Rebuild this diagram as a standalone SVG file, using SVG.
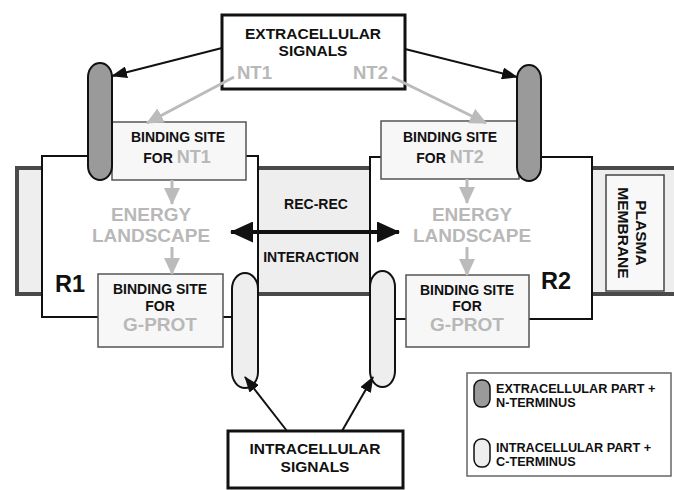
<svg xmlns="http://www.w3.org/2000/svg" width="674" height="490" viewBox="0 0 674 490">
<defs>
<style>
text{font-family:"Liberation Sans",Arial,sans-serif;font-weight:bold;fill:#111}
.g{fill:#b8b8b8}
.sig{font-size:15.5px}
.bs{font-size:14px}
.en{font-size:19px;fill:#b8b8b8}
.rl{font-size:23.5px}
.lg{font-size:12.7px}
.box{fill:#fff;stroke:#111;stroke-width:3}
.rec{fill:#fff;stroke:#111;stroke-width:2}
.bind{fill:#f7f7f7;stroke:#555;stroke-width:1.5}
.ext{fill:#9a9a9a;stroke:#111;stroke-width:2}
.int{fill:#eeeeee;stroke:#111;stroke-width:2}
.ka{fill:none;stroke:#111;stroke-width:2}
.ga{fill:none;stroke:#bbb;stroke-width:3}
</style>
<marker id="ah" markerUnits="userSpaceOnUse" markerWidth="16" markerHeight="12" refX="15" refY="6" orient="auto"><path d="M0,0 L16,6 L0,12 z" fill="#111"/></marker>
<marker id="gh" markerUnits="userSpaceOnUse" markerWidth="17" markerHeight="16" refX="16" refY="8" orient="auto"><path d="M0,0 L17,8 L0,16 z" fill="#bbb"/></marker>
<marker id="dh" markerUnits="userSpaceOnUse" markerWidth="23" markerHeight="21" refX="22" refY="10.5" orient="auto-start-reverse"><path d="M0,0 L23,10.5 L0,21 z" fill="#111"/></marker>
</defs>

<g id="membrane">
<rect x="17" y="168" width="680" height="126" fill="#eeeeee" stroke="#4a4a4a" stroke-width="4"/>
</g>

<g id="r1">
<rect class="rec" x="42" y="156" width="216" height="161"/>
<text class="rl" x="55" y="292">R1</text>
</g>
<g id="r2">
<rect class="rec" x="370" y="157" width="222" height="162"/>
<text class="rl" x="541" y="289">R2</text>
</g>

<g id="recrec">
<text class="bs" x="316" y="209" text-anchor="middle">REC-REC</text>
<text class="bs" x="311" y="262" text-anchor="middle">INTERACTION</text>
</g>

<g id="plasma-membrane">
<rect x="606" y="175" width="58" height="116" fill="#f8f8f8" stroke="#444" stroke-width="1.5"/>
<text class="sig" transform="translate(636,233) rotate(90)" text-anchor="middle">PLASMA</text>
<text class="sig" transform="translate(618,233) rotate(90)" text-anchor="middle">MEMBRANE</text>
</g>

<g id="extracellular">
<rect class="box" x="222" y="15" width="183" height="74"/>
<text class="sig" x="313" y="39" text-anchor="middle">EXTRACELLULAR</text>
<text class="sig" x="313" y="56" text-anchor="middle">SIGNALS</text>
<text class="g" x="237" y="79" style="font-size:18.5px">NT1</text>
<text class="g" x="353" y="79" style="font-size:18.5px">NT2</text>
</g>

<g id="bind-nt1">
<rect class="bind" x="112" y="122" width="134" height="58"/>
<text class="bs" x="178" y="142" text-anchor="middle">BINDING SITE</text>
<text class="bs" x="177" y="163" text-anchor="middle">FOR <tspan class="g" style="font-size:18px">NT1</tspan></text>
</g>
<g id="bind-nt2">
<rect class="bind" x="381" y="121" width="138" height="58"/>
<text class="bs" x="450" y="142" text-anchor="middle">BINDING SITE</text>
<text class="bs" x="450" y="163" text-anchor="middle">FOR <tspan class="g" style="font-size:18px">NT2</tspan></text>
</g>

<g id="energy1">
<text class="en" x="151" y="221" text-anchor="middle">ENERGY</text>
<text class="en" x="151" y="242" text-anchor="middle">LANDSCAPE</text>
</g>
<g id="energy2">
<text class="en" x="472" y="221" text-anchor="middle">ENERGY</text>
<text class="en" x="472" y="242" text-anchor="middle">LANDSCAPE</text>
</g>

<g id="bind-gprot1">
<rect class="bind" x="98" y="274" width="125" height="73"/>
<text class="bs" x="160" y="294" text-anchor="middle">BINDING SITE</text>
<text class="bs" x="160" y="311" text-anchor="middle">FOR</text>
<text class="en" x="160" y="331" text-anchor="middle">G-PROT</text>
</g>
<g id="bind-gprot2">
<rect class="bind" x="406" y="275" width="123" height="72"/>
<text class="bs" x="467" y="295" text-anchor="middle">BINDING SITE</text>
<text class="bs" x="467" y="311" text-anchor="middle">FOR</text>
<text class="en" x="467" y="331" text-anchor="middle">G-PROT</text>
</g>

<g id="ext-term1"><rect class="ext" x="88" y="63" width="24" height="117" rx="12" ry="14"/></g>
<g id="ext-term2"><rect class="ext" x="517" y="65" width="24" height="116" rx="12" ry="14"/></g>
<g id="int-term1"><rect class="int" x="232" y="273" width="26" height="115" rx="13" ry="16"/></g>
<g id="int-term2"><rect class="int" x="370" y="271" width="25" height="116" rx="12.5" ry="16"/></g>

<g id="intracellular">
<rect class="box" x="228" y="431" width="175" height="57"/>
<text class="sig" x="315" y="454" text-anchor="middle">INTRACELLULAR</text>
<text class="sig" x="315" y="472" text-anchor="middle">SIGNALS</text>
</g>

<g id="legend">
<rect x="467" y="373" width="204" height="103" fill="#fff" stroke="#666" stroke-width="1.5"/>
<rect class="ext" x="474" y="380" width="16" height="27" rx="7" ry="8" style="stroke-width:1.5"/>
<rect class="int" x="474" y="439" width="16" height="28" rx="7" ry="8" style="stroke-width:1.5"/>
<text class="lg" x="496" y="393">EXTRACELLULAR PART +</text>
<text class="lg" x="496" y="407">N-TERMINUS</text>
<text class="lg" x="496" y="452">INTRACELLULAR PART +</text>
<text class="lg" x="496" y="466">C-TERMINUS</text>
</g>

<g id="connectors">
<path class="ka" d="M222,48 L112,76" marker-end="url(#ah)"/>
<path class="ka" d="M405,49 L517,77" marker-end="url(#ah)"/>
<path class="ga" d="M234,77 L147,123" marker-end="url(#gh)"/>
<path class="ga" d="M392,77 L486,123" marker-end="url(#gh)"/>
<path class="ga" d="M172,180 L172,204" marker-end="url(#gh)"/>
<path class="ga" d="M172,247 L172,274" marker-end="url(#gh)"/>
<path class="ga" d="M467,179 L467,203" marker-end="url(#gh)"/>
<path class="ga" d="M467,247 L467,275" marker-end="url(#gh)"/>
<path class="ka" d="M287,431 L245,377" marker-end="url(#ah)"/>
<path class="ka" d="M342,431 L373,377" marker-end="url(#ah)"/>
<path d="M231,232 L399,232" fill="none" stroke="#111" stroke-width="4" marker-start="url(#dh)" marker-end="url(#dh)"/>
</g>
</svg>
